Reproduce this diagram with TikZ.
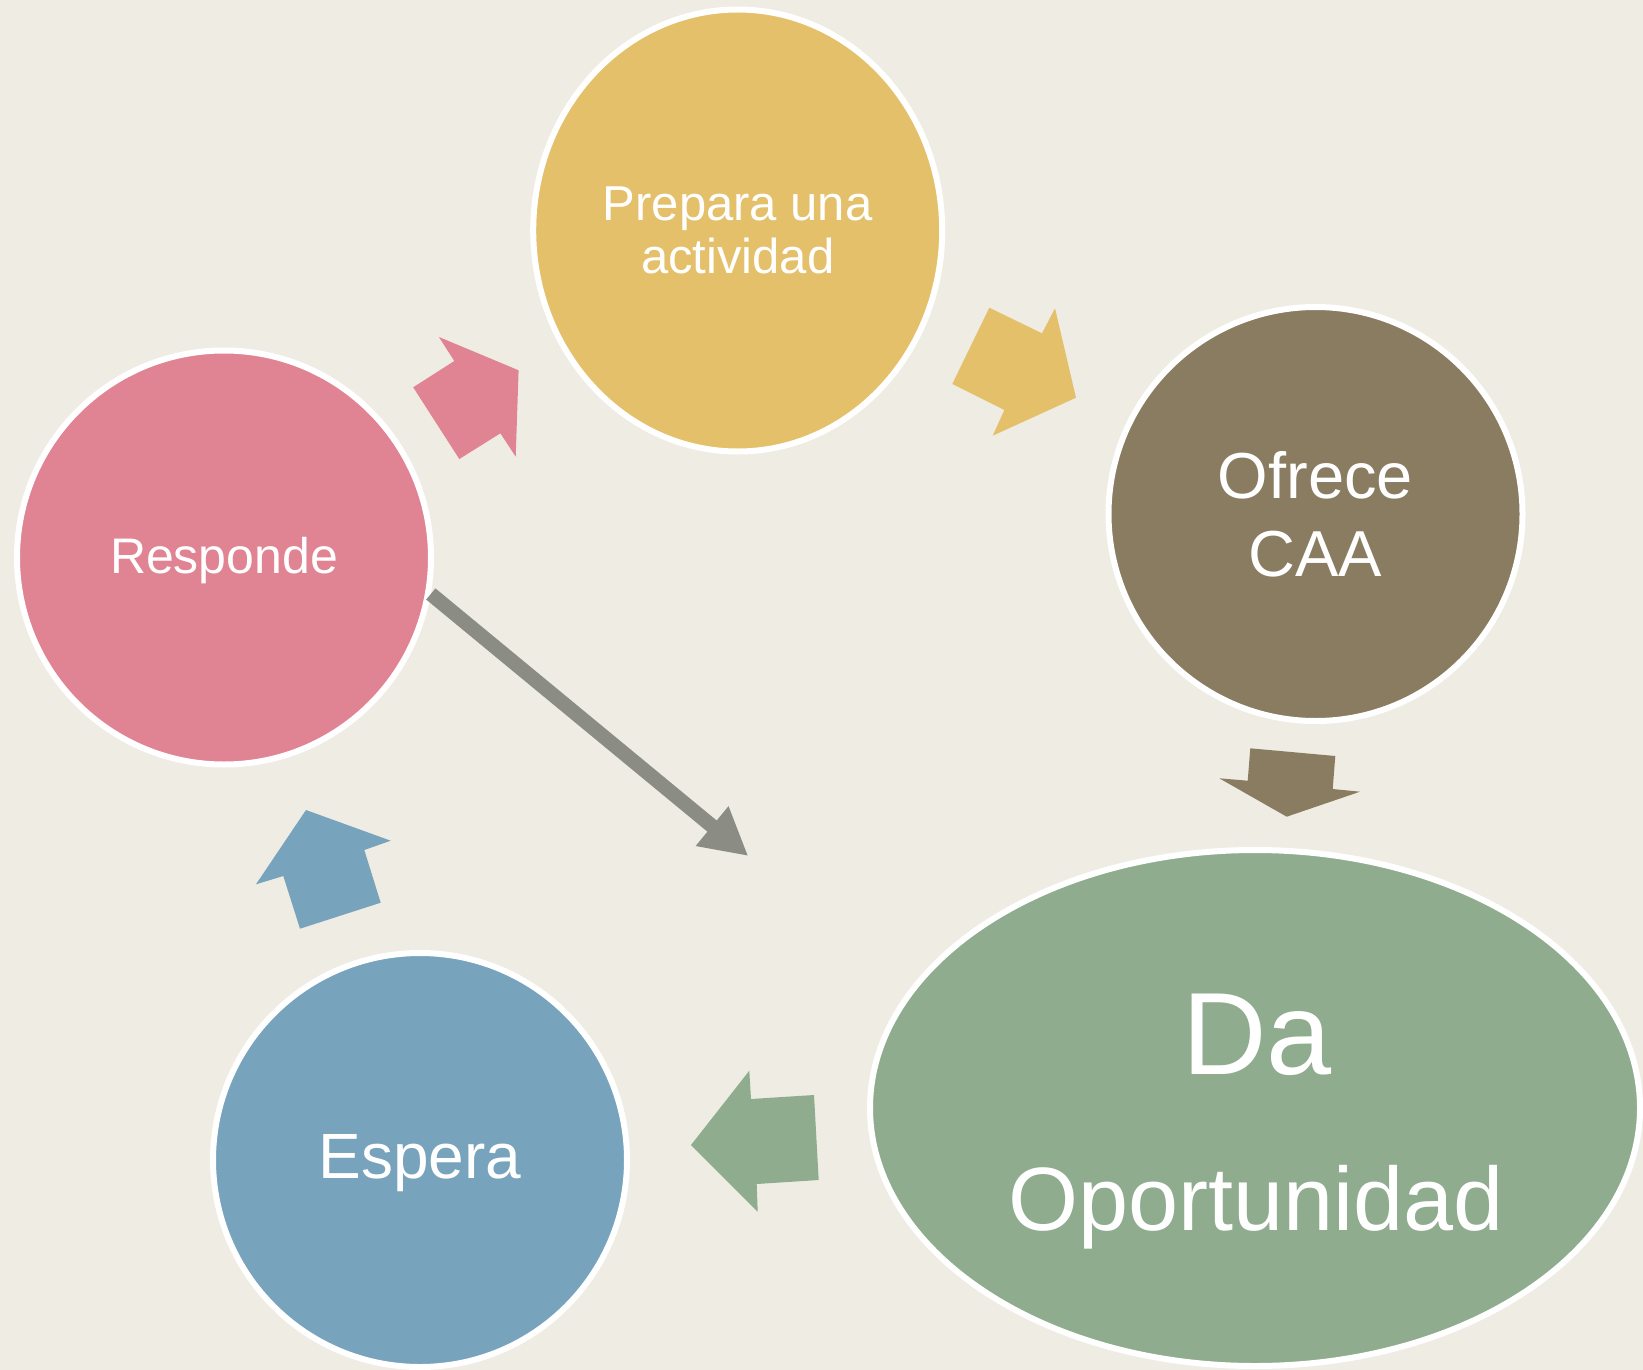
\documentclass[tikz,border=0pt]{standalone}
\usepackage{fontspec}
\setmainfont{Liberation Sans}
\usetikzlibrary{shapes.geometric,arrows.meta}
\definecolor{bgc}{HTML}{EFECE4}
\definecolor{yellowc}{HTML}{E4C06B}
\definecolor{brownc}{HTML}{8A7C61}
\definecolor{greenc}{HTML}{8FAC8E}
\definecolor{bluec}{HTML}{77A3BC}
\definecolor{pinkc}{HTML}{E08393}
\definecolor{grayc}{HTML}{8B8C84}
\begin{document}
\begin{tikzpicture}[x=1pt,y=-1pt,
  bubble/.style={ellipse, draw=white, line width=6pt, inner sep=0pt, text=white, align=center},
  lbl/.style={text=white, inner sep=0pt, anchor=base},
  blockarrow/.style={draw=none},
  linkarrow/.style={draw=grayc, line width=14.5pt, -{Triangle[width=48pt,length=47pt]}}
]
\useasboundingbox (0,0) rectangle (1643,1370);
\fill[bgc] (0,0) rectangle (1643,1370);

% bubbles
\node[bubble, fill=yellowc, minimum width=409pt, minimum height=442pt,
      font=\fontsize{49}{53.4}\selectfont] (prep) at (737.7,230.5) {Prepara una\\actividad};
\node[bubble, fill=brownc, minimum width=414pt, minimum height=414pt,
      font=\fontsize{65}{78}\selectfont] (caa) at (1315.5,514) {Ofrece\\CAA};
\node[bubble, fill=greenc, minimum width=770pt, minimum height=516pt] (opp) at (1255,1108) {};
\node[bubble, fill=bluec, minimum width=414pt, minimum height=414pt,
      text height=44pt, text depth=7.4pt,
      font=\fontsize{64}{70}\selectfont] (esp) at (420,1160) {Espera};
\node[bubble, fill=pinkc, minimum width=414pt, minimum height=414pt,
      text height=36pt, text depth=4.4pt,
      font=\fontsize{50}{56}\selectfont] (resp) at (224,557.5) {Responde};

\node[lbl, font=\fontsize{117}{120}\selectfont] (da) at (1257,1074) {Da};
\node[lbl, font=\fontsize{90}{96}\selectfont] (oport) at (1256,1230) {Oportunidad};

% block arrows
\fill[pinkc, blockarrow] (413.2,387.3) -- (454.3,361) -- (438.9,337) -- (518.6,370.3)
  -- (515.7,456.7) -- (500.4,433.3) -- (459.3,459) -- cycle;
\fill[yellowc, blockarrow] (989.3,307.7) -- (1042,333.3) -- (1055,308.3) -- (1076,397.7)
  -- (992.7,435.7) -- (1004.3,410) -- (952.3,384) -- cycle;
\fill[brownc, blockarrow] (1250.3,748.3) -- (1335.3,756) -- (1332.7,789) -- (1360,791.7)
  -- (1286.7,816.7) -- (1219.3,778.3) -- (1247.7,780.7) -- cycle;
\fill[greenc, blockarrow] (749.3,1070.7) -- (751,1099) -- (814,1095) -- (818.7,1180)
  -- (756.7,1184) -- (757.7,1211.7) -- (691,1145) -- cycle;
\fill[bluec, blockarrow] (306,810) -- (390.7,840.7) -- (364.3,850) -- (380.7,902.7)
  -- (300,928.7) -- (283.3,876) -- (256,884.3) -- cycle;

% gray link arrow
\coordinate (gtip) at (748.3,856);
\draw[linkarrow] (resp.-10.5) -- (gtip);
\end{tikzpicture}
\end{document}
